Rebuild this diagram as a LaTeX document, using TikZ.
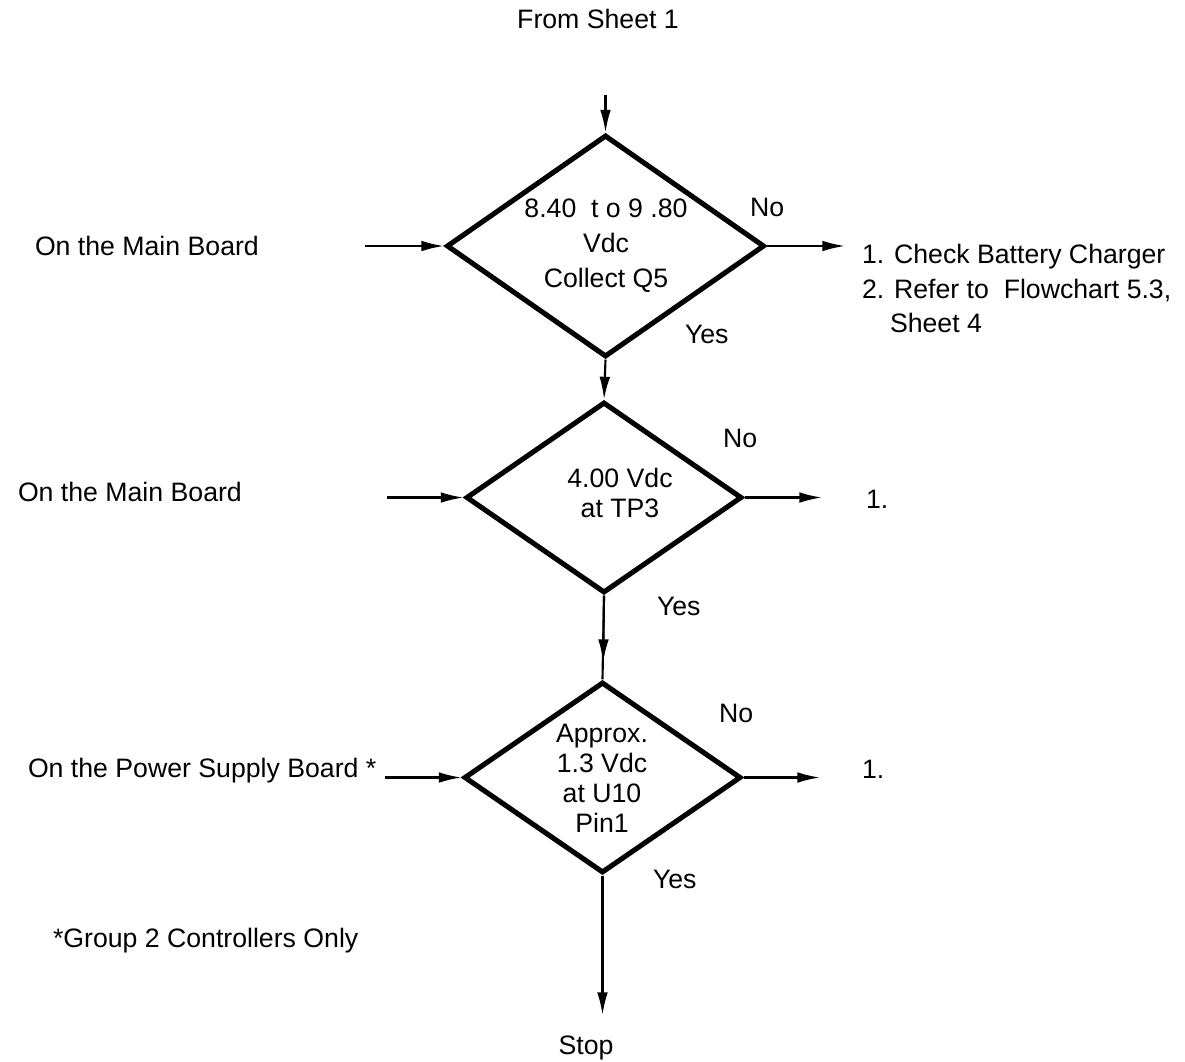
\documentclass[tikz,border=0pt]{standalone}
\usepackage{fontspec}
\setmainfont{Liberation Sans}
\usetikzlibrary{shapes.geometric,arrows.meta}
\begin{document}
\begin{tikzpicture}[x=0.75pt,y=-0.75pt,
  dia/.style={draw,shape=diamond,line width=3.8pt,inner sep=0pt,line join=miter},
  arr/.style={line width=1.6pt,-{Latex[length=17pt,width=8pt]}},
  plainline/.style={line width=1.6pt},
  lbl/.style={inner sep=0pt,outer sep=0pt,font=\fontsize{20}{24}\selectfont},
  dtxt/.style={inner sep=0pt,outer sep=0pt,align=center},
]
\useasboundingbox (0,0) rectangle (1185,1061);

% decision diamonds
\node[dia,minimum width=238.5pt,minimum height=166.5pt] (d1) at (605.5,246) {};
\node[dia,minimum width=207pt,minimum height=143.25pt] (d2) at (604,497.5) {};
\node[dia,minimum width=207.75pt,minimum height=143.25pt] (d3) at (602.5,777.5) {};

% diamond texts
\node[dtxt,font=\fontsize{20}{26.25}\selectfont] (t1) at (606,246) {8.40\ \ t o 9 .80\\Vdc\\Collect Q5};
\node[dtxt,font=\fontsize{20}{22.5}\selectfont] (t2) at (620,492.5) {4.00 Vdc\\at TP3};
\node[dtxt,font=\fontsize{20}{22.5}\selectfont] (t3) at (602,778) {Approx.\\1.3 Vdc\\at U10\\Pin1};

% free texts
\node[lbl,anchor=base] (from) at (598,28) {From Sheet 1};
\node[lbl,anchor=base west] (in1) at (35,255) {On the Main Board};
\node[lbl,anchor=base west] (in2) at (18,501) {On the Main Board};
\node[lbl,anchor=base west] (in3) at (28,777) {On the Power Supply Board *};
\node[lbl,anchor=base west] (note) at (53,947) {*Group 2 Controllers Only};

\node[lbl,anchor=base west] (no1) at (750,216) {No};
\node[lbl,anchor=base west] (no2) at (723,447) {No};
\node[lbl,anchor=base west] (no3) at (719,722) {No};
\node[lbl,anchor=base west] (yes1) at (685,343) {Yes};
\node[lbl,anchor=base west] (yes2) at (657,615) {Yes};
\node[lbl,anchor=base west] (yes3) at (653,888) {Yes};

\node[lbl,anchor=base west] (r1a) at (862,263) {1. Check Battery Charger};
\node[lbl,anchor=base west] (r1b) at (862,298) {2. Refer to\ \ Flowchart 5.3,};
\node[lbl,anchor=base west] (r1c) at (890,332) {Sheet 4};
\node[lbl,anchor=base west] (r2) at (866,508) {1.};
\node[lbl,anchor=base west] (r3) at (862,778) {1.};
\node[lbl,anchor=base] (stop) at (586,1054) {Stop};

% connector free ends
\coordinate (top) at (605.5,95);
\coordinate (mid) at (603.2,662);
\coordinate (l1) at (365,246);
\coordinate (l2) at (387,497.5);
\coordinate (l3) at (385,777.5);
\coordinate (o1) at (845,246);
\coordinate (o2) at (822,497.5);
\coordinate (o3) at (820,777.5);
\coordinate (fin) at (602.5,1015);

% connectors
\draw[arr] (top) -- (d1.north);
\draw[arr] (d1.south) -- (d2.north);
\draw[plainline] (d2.south) -- (d3.north);
\draw[arr] (d2.south) -- (mid);
\draw[arr] (d3.south) -- (fin);

\draw[arr] (l1) -- (d1.west);
\draw[arr] (l2) -- (d2.west);
\draw[arr] (l3) -- (d3.west);

\draw[arr] (d1.east) -- (o1);
\draw[arr] (d2.east) -- (o2);
\draw[arr] (d3.east) -- (o3);
\end{tikzpicture}
\end{document}
